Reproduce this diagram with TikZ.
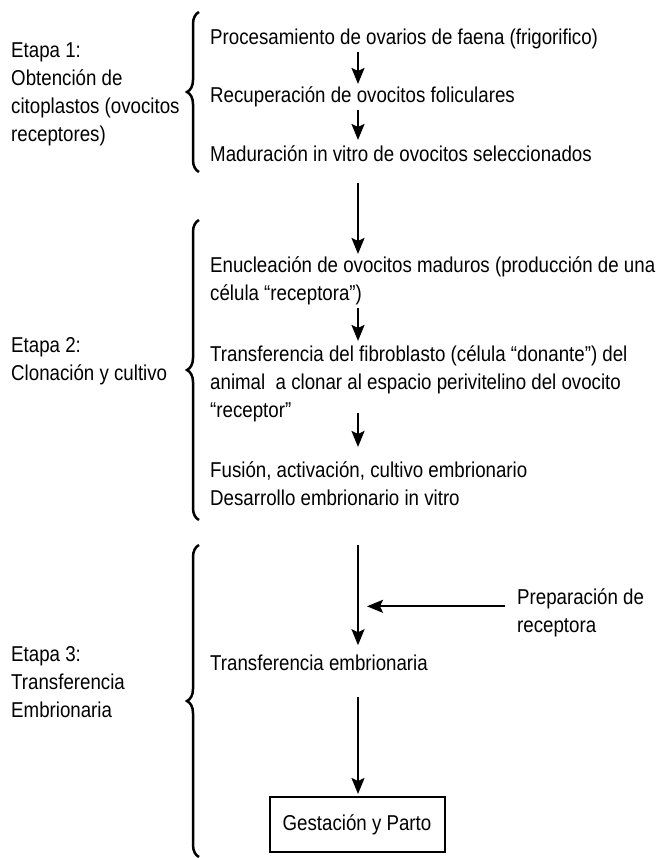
\documentclass[tikz,border=0pt]{standalone}
\usepackage{fontspec}
\setmainfont[FakeStretch=0.87]{Liberation Sans}
\usetikzlibrary{arrows.meta,decorations.pathreplacing}

\tikzset{
  paso/.style={anchor=base west,inner sep=0pt,align=left,font=\fontsize{21.5}{28}\selectfont},
  flecha/.style={-{Stealth[length=16pt,width=13pt,inset=3pt]},line width=2pt},
  llave/.style={decorate,decoration={brace,amplitude=12pt},line width=2.5pt},
  caja/.style={draw,line width=2pt,minimum width=175pt,minimum height=55pt,inner sep=0pt,font=\fontsize{21.5}{28}\selectfont},
}

\begin{document}
\begin{tikzpicture}[x=1pt,y=-1pt]
    \useasboundingbox (0,0) rectangle (657,858);
    \coordinate (col) at (358,0);
    % etapa 1
    \node[paso] (e1) at (11,142) {Etapa 1:\\Obtención de\\citoplastos (ovocitos\\receptores)};
    \draw[llave] (199,172) -- (199,12);
    \node[paso] (p1) at (210,45) {Procesamiento de ovarios de faena (frigorifico)};
    \node[paso] (p2) at (210,103) {Recuperación de ovocitos foliculares};
    \node[paso] (p3) at (210,162) {Maduración in vitro de ovocitos seleccionados};
    \draw[flecha,shorten <=2.5pt,shorten >=3pt] (p1.south -| col) -- (p2.north -| col);
    \draw[flecha,shorten <=2.5pt,shorten >=6pt] (p2.south -| col) -- (p3.north -| col);
    % etapa 2
    \node[paso] (e2) at (11,380) {Etapa 2:\\Clonación y cultivo};
    \draw[llave] (199,520) -- (199,220);
    \node[paso] (p4) at (210,300) {Enucleación de ovocitos maduros (producción de una\\célula “receptora”)};
    \node[paso] (p5) at (210,417) {Transferencia del fibroblasto (célula “donante”) del\\animal\ \ a clonar al espacio perivitelino del ovocito\\“receptor”};
    \node[paso] (p6) at (210,505) {Fusión, activación, cultivo embrionario\\Desarrollo embrionario in vitro};
    \draw[flecha,shorten <=21pt,shorten >=2pt] (p3.south -| col) -- (p4.north -| col);
    \draw[flecha,shorten <=3.5pt,shorten >=4pt] (p4.south -| col) -- (p5.north -| col);
    \draw[flecha,shorten <=-8.5pt,shorten >=14pt] (p5.south -| col) -- (p6.north -| col);
    % etapa 3
    \node[paso] (e3) at (11,717) {Etapa 3:\\Transferencia\\Embrionaria};
    \draw[llave] (199,857) -- (199,545);
    \coordinate (inicio) at (358,545);
    \node[paso] (p7) at (210,670) {Transferencia embrionaria};
    \node[paso] (prep) at (517,632) {Preparación de\\receptora};
    \node[caja] (gest) at (357,824.5) {Gestación y Parto};
    \draw[flecha,shorten >=9pt] (inicio) -- (p7.north -| col);
    \draw[flecha,shorten <=12pt,shorten >=9pt] ([yshift=6pt]prep.west) -- ([yshift=6pt]prep.west -| col);
    \draw[flecha,shorten <=27pt,shorten >=2pt] (p7.south -| col) -- (gest.north -| col);
\end{tikzpicture}
\end{document}
